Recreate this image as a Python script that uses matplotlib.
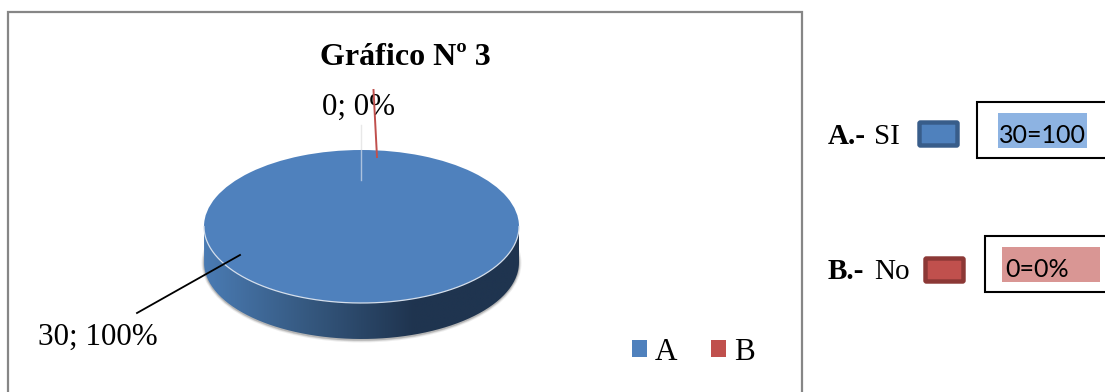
import numpy as np
import matplotlib
matplotlib.use('Agg')
import matplotlib.pyplot as plt
from matplotlib.colors import LinearSegmentedColormap
from matplotlib.patches import PathPatch, Rectangle, FancyBboxPatch, Ellipse
from matplotlib.path import Path
from matplotlib.transforms import Affine2D

plt.rcParams['font.family'] = ['Liberation Serif', 'DejaVu Serif']

# survey answers
categories = ['A', 'B']
values = [30, 0]
slice_colors = ['#4f81bd', '#c0504d']
title = 'Gráfico Nº 3'

# key at the right of the chart
key_names = ['SI', 'No']
key_boxes = ['30=100', '0=0%']

W, H = 1105, 392
fig = plt.figure(figsize=(W / 100, H / 100), dpi=100, facecolor='white')
ax = fig.add_axes([0, 0, 1, 1])

# chart frame, runs off the bottom of the page
ax.add_patch(Rectangle((7.5, 11.5), 794.5, 400, fc='white', ec='#868686', lw=1.6, zorder=0))

# pie geometry in pixels
cx, cy, rx, ry, depth = 361.5, 226.5, 157.5, 76.5, 36
top_tf = Affine2D().scale(rx, -ry).translate(cx, cy) + ax.transData
d = depth / ry

# soft shadow under the disc
for grow, alpha in [(5.0, 0.10), (3.0, 0.15), (1.5, 0.25)]:
    ax.add_patch(Ellipse((cx, cy + depth + 0.5), 2 * rx + grow, 2 * ry + grow + 1, fc='#555555', ec='none',
                         alpha=alpha, zorder=1))

# side wall of the disc with a left to right shade
t = np.linspace(np.pi, 2 * np.pi, 200)
wall_xy = np.column_stack([np.cos(t), np.sin(t) - d])
wall_xy = np.vstack([[-1, 0], wall_xy, [1, 0], [-1, 0]])
wall = PathPatch(Path(wall_xy), fc='none', ec='none', transform=top_tf)
ax.add_patch(wall)
shade = LinearSegmentedColormap.from_list('wall', ['#4a7bb3', '#35587f', '#1f344f', '#1f344f'])
img = ax.imshow(np.linspace(0, 1, 256).reshape(1, -1), cmap=shade, aspect='auto', zorder=2,
                extent=(cx - rx, cx + rx, cy + ry + depth, cy - ry))
img.set_clip_path(wall)

# top face
wedges, _ = ax.pie(values, colors=slice_colors, startangle=90, counterclock=False)
for w in wedges:
    w.set_transform(top_tf)
    w.set_clip_on(False)
    w.set_zorder(3)

# light rim along the front edge
ax.plot(cx + rx * np.cos(t), cy - ry * np.sin(t), color='#d5dfec', lw=0.9, zorder=4)
ax.plot([361, 361], [180, 150], color='#c4d3e6', lw=1, alpha=0.8, zorder=4)
ax.plot([361, 361], [150, 125], color='#e8e8e8', lw=1, zorder=1)

# chart title
ax.text(405, 64.5, title, fontsize=23, fontweight='bold', ha='center', va='baseline', zorder=6)

# data labels and leader lines
total = sum(values)
labels = ['%d; %d%%' % (v, round(100 * v / total)) for v in values]
ax.text(38, 345, labels[0], fontsize=22.4, ha='left', va='baseline', zorder=6)
ax.text(322, 115, labels[1], fontsize=22.4, ha='left', va='baseline', zorder=6)
ax.plot([240, 137], [255, 313], color='black', lw=1.3, zorder=5)
ax.plot([373.5, 377], [90, 157], color=slice_colors[1], lw=1.4, zorder=7)

# legend in the lower right of the frame
leg = ax.legend(wedges, categories, ncol=2, frameon=False, fontsize=22.4, loc='center',
                bbox_to_anchor=(693.5 / W, 1 - 352 / H), bbox_transform=fig.transFigure,
                handlelength=0.48, handleheight=0.48, handletextpad=0.26, columnspacing=1.1,
                borderpad=0, labelspacing=0)

# key with swatches and boxed counts, outside the chart frame
key_y = [144, 279]
box_text_y = [143, 277]
swatch_x = [917, 923]
swatch_y = [120, 256]
swatch_edge = ['#385d8a', '#8c3836']
box_x = [977, 985]
box_y = [102, 236]
hl_x = [(998, 1087), (1002, 1100)]
hl_y = [(113, 148), (247, 282)]
hl_color = ['#8db3e2', '#d99694']
text_x = [999, 1005]
for i in range(2):
    ax.text(828, key_y[i], categories[i] + '.-', fontsize=21, fontweight='bold', va='baseline', zorder=6)
    ax.text(874, key_y[i], key_names[i], fontsize=21, va='baseline', zorder=6)
    ax.add_patch(FancyBboxPatch((swatch_x[i] + 2.5, swatch_y[i] + 2.5), 38, 23, boxstyle='round,pad=0,rounding_size=1',
                                fc=slice_colors[i], ec=swatch_edge[i], lw=3.2))
    ax.add_patch(Rectangle((box_x[i], box_y[i]), 140, 56, fc='white', ec='black', lw=1.5, zorder=2))
    ax.add_patch(Rectangle((hl_x[i][0], hl_y[i][0]), hl_x[i][1] - hl_x[i][0], hl_y[i][1] - hl_y[i][0],
                           fc=hl_color[i], ec='none', zorder=3))
    ax.text(text_x[i], box_text_y[i], key_boxes[i], family=['Lato', 'DejaVu Sans'], fontsize=18, va='baseline', zorder=6)

ax.set_xlim(0, W)
ax.set_ylim(H, 0)
ax.set_aspect('auto')
ax.axis('off')

fig.savefig('out.png', dpi=100, facecolor='white')
